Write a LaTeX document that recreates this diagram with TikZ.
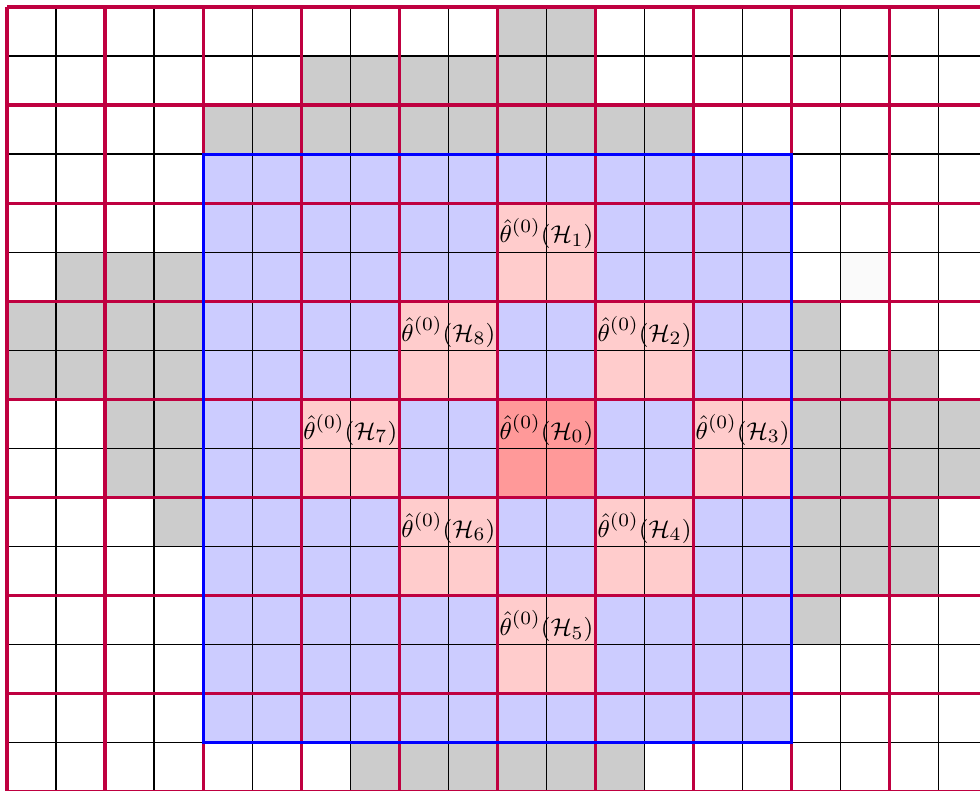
\documentclass[tikz,border=0pt]{standalone}
\usepackage{amsmath}
\definecolor{cgrid}{HTML}{BF0040}
\tikzset{
  cellgray/.style={fill=gray!40},
  hblock/.style={fill=red!20},
  hcenter/.style={fill=red!40},
  thin grid/.style={black, line width=0.5pt},
  block grid/.style={cgrid, line width=1.2pt},
  region/.style={blue, line width=1.2pt},
  hlabel/.style={anchor=south, inner sep=1pt, font=\fontsize{9.4}{11}\selectfont},
}
\def\ncol{20}
\def\nrow{16}

\begin{document}
\begin{tikzpicture}[x=0.64cm, y=-0.64cm]
  \useasboundingbox (-0.143,-0.143) rectangle (19.84,15.98);
  \clip (-0.143,-0.143) rectangle (19.84,15.98);
  % cells outside the region
  \foreach \c/\r/\n in {10/0/2, 6/1/6, 4/2/10, 1/5/3, 0/6/4, 16/6/1, 0/7/4,
      16/7/3, 2/8/2, 16/8/4, 2/9/2, 16/9/4, 3/10/1, 16/10/3, 16/11/3,
      16/12/1, 7/15/6}
    \fill[cellgray] (\c,\r) rectangle ++(\n,1);
  \fill[gray!4] (17,5) rectangle ++(1,1);
  % search region
  \fill[blue!20] (4,3) rectangle (16,15);
  \foreach \c/\r in {10/4, 12/6, 14/8, 12/10, 10/12, 8/10, 6/8, 8/6}
    \fill[hblock] (\c,\r) rectangle ++(2,2);
  \fill[hcenter] (10,8) rectangle ++(2,2);
  % grids
  \foreach \i in {0,...,\ncol} \draw[thin grid] (\i,0) -- (\i,\nrow);
  \foreach \j in {0,...,\nrow} \draw[thin grid] (0,\j) -- (\ncol,\j);
  \foreach \i in {0,2,...,\ncol} \draw[block grid] (\i,0) -- (\i,\nrow);
  \foreach \j in {0,2,...,\nrow} \draw[block grid] (0,\j) -- (\ncol,\j);
  \draw[region] (4,3) rectangle (16,15);
  % labels
  \foreach \c/\r/\k in {10/8/0, 10/4/1, 12/6/2, 14/8/3, 12/10/4, 10/12/5,
      8/10/6, 6/8/7, 8/6/8}
    \node[hlabel] (h\k) at (\c+1,\r+1) {$\hat{\theta}^{(0)}(\mathcal{H}_{\k})$};
\end{tikzpicture}
\end{document}
